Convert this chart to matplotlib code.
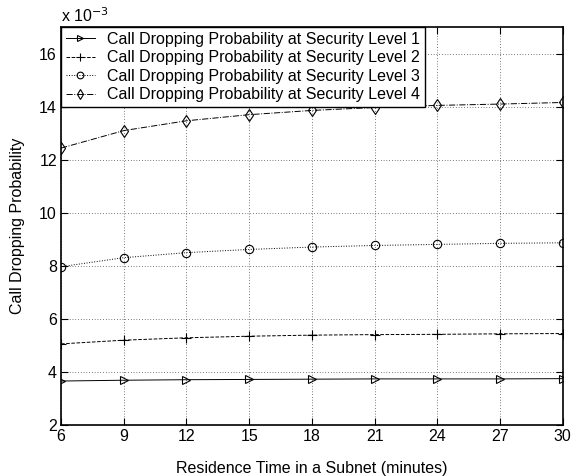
import matplotlib
matplotlib.use("Agg")
import matplotlib.pyplot as plt

plt.rcParams['font.family'] = ['Liberation Sans', 'DejaVu Sans']

# residence time (minutes)
time = [6, 9, 12, 15, 18, 21, 24, 27, 30]
# call dropping probability, in units of 1e-3
level1 = [3.66, 3.69, 3.71, 3.72, 3.73, 3.74, 3.74, 3.74, 3.75]
level2 = [5.06, 5.20, 5.29, 5.35, 5.39, 5.41, 5.42, 5.44, 5.45]
level3 = [7.97, 8.31, 8.50, 8.62, 8.71, 8.77, 8.81, 8.85, 8.87]
level4 = [12.44, 13.10, 13.47, 13.70, 13.86, 13.97, 14.05, 14.10, 14.16]
labels = ['Call Dropping Probability at Security Level %d' % i for i in range(1, 5)]

fig = plt.figure(figsize=(5.76, 4.76), dpi=100)
ax = fig.add_axes([0.106, 0.107, 0.871, 0.836])

ax.plot(time, level1, 'k-', marker='>', mfc='none', ms=6, mew=0.8, lw=0.7, label=labels[0])
ax.plot(time, level2, 'k--', marker='+', ms=7, mew=0.8, lw=0.7, label=labels[1])
ax.plot(time, level3, 'k:', marker='o', mfc='none', ms=6, mew=0.8, lw=0.7, label=labels[2])
ax.plot(time, level4, 'k-.', marker='d', mfc='none', ms=6, mew=0.8, lw=0.7, label=labels[3])

ax.set_xlim(6, 30)
ax.set_ylim(2, 17)
ax.set_xticks(time)
ax.set_yticks([2, 4, 6, 8, 10, 12, 14, 16])
ax.grid(True, linestyle=(0, (1, 3)), color='k', lw=0.5)
ax.tick_params(direction='in', top=True, right=True, labelsize=11.5, length=5, pad=3)
for s in ax.spines.values():
    s.set_linewidth(1.2)

ax.text(0, 1.005, r'x 10$^{-3}$', transform=ax.transAxes, fontsize=11.5, va='bottom')
ax.set_xlabel('Residence Time in a Subnet (minutes)', fontsize=11.5, labelpad=12)
ax.set_ylabel('Call Dropping Probability', fontsize=11.5, labelpad=10)

leg = ax.legend(loc='upper left', fontsize=11.5, fancybox=False, edgecolor='k',
                framealpha=1, borderaxespad=0, handlelength=1.8,
                labelspacing=0.22, borderpad=0.3, handletextpad=0.8,
                markerscale=0.8)
leg.get_frame().set_linewidth(1.0)

fig.savefig('out.png', dpi=100)
